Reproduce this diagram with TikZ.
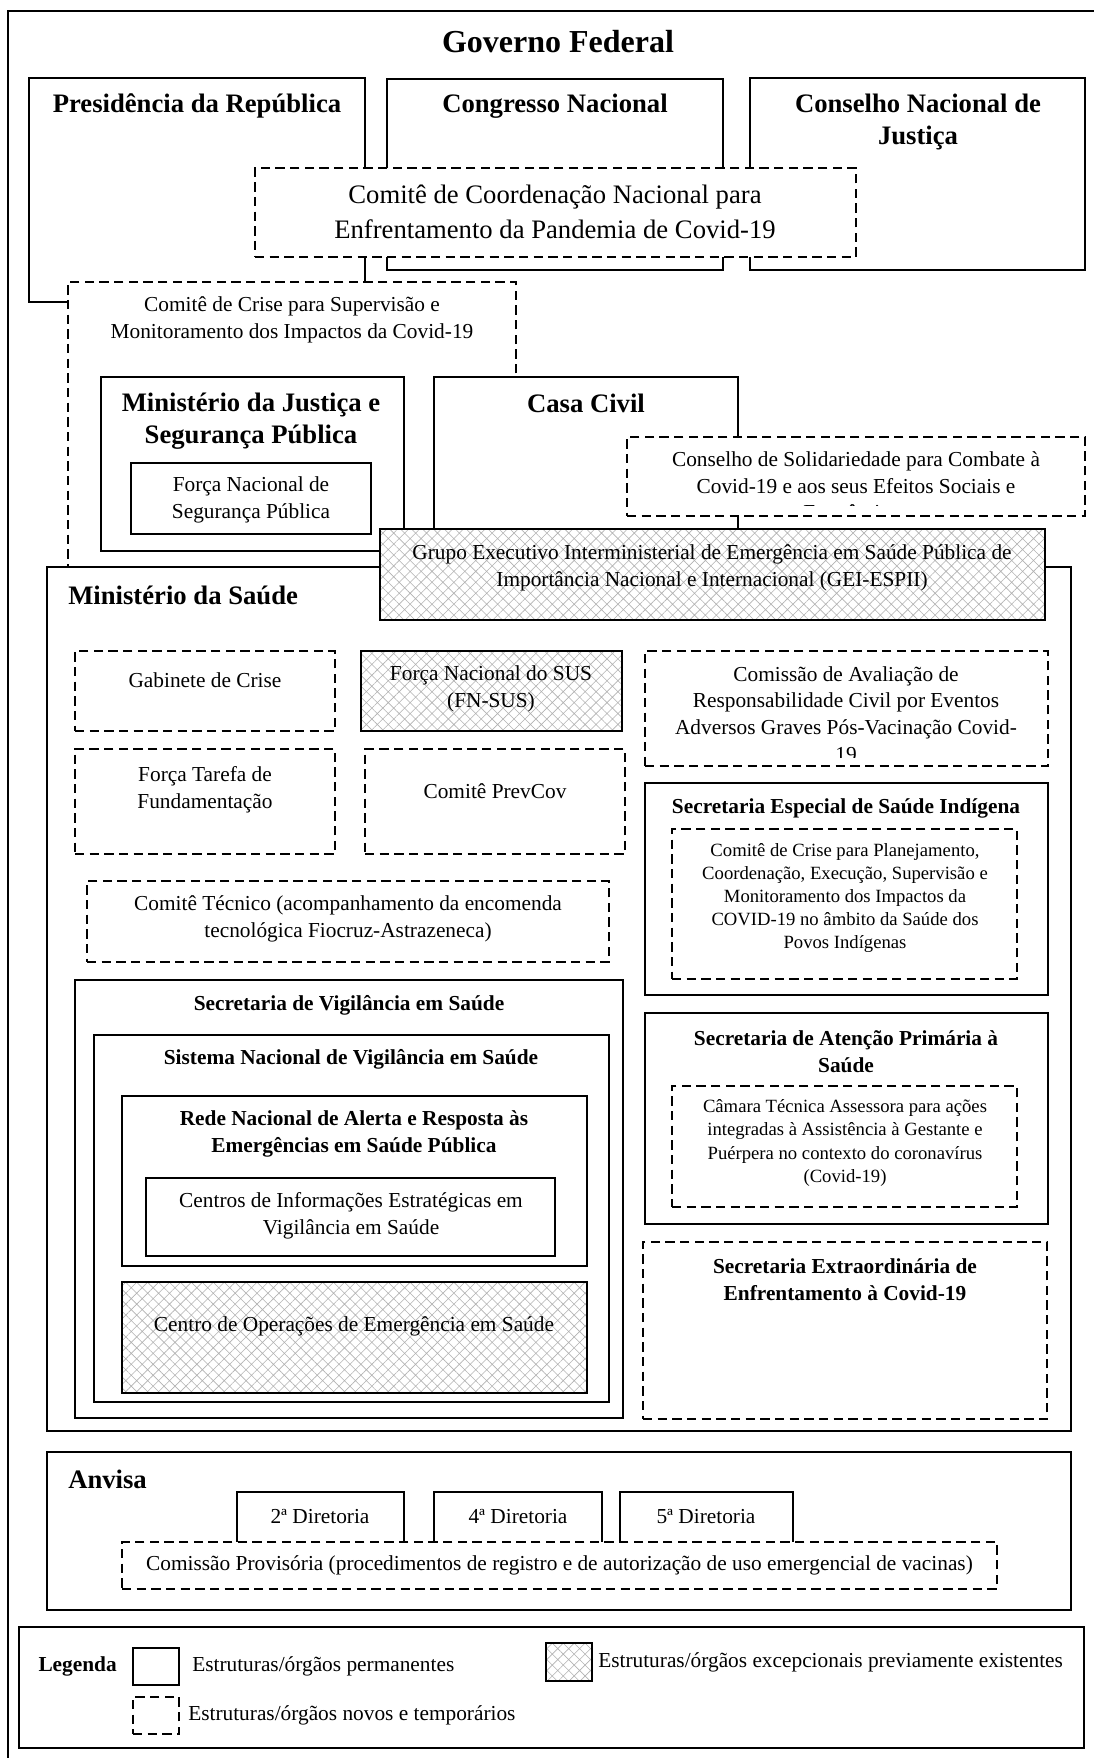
\documentclass[tikz,border=0pt]{standalone}
\usepackage{fontspec}
\setmainfont{Liberation Serif}
\usetikzlibrary{positioning,fit,patterns.meta}

\tikzset{
  perm/.style={draw, fill=white, line width=0.8pt, inner sep=0pt, outer sep=0pt},
  temp/.style={perm, dash pattern=on 7pt off 4pt},
  exc/.style={perm, preaction={fill=white},
    pattern={Hatch[angle=45,distance=5.8pt,line width=0.45pt]}, pattern color=black!30},
  ttl/.style={inner sep=0pt, font=\bfseries\fontsize{24}{28}\selectfont},
  hd/.style={inner sep=0pt, align=center, font=\bfseries\fontsize{20}{24}\selectfont},
  big/.style={inner sep=0pt, align=center, font=\fontsize{20}{26}\selectfont},
  sub/.style={inner sep=0pt, align=center, font=\bfseries\fontsize{16}{20.5}\selectfont},
  txt/.style={inner sep=0pt, align=center, font=\fontsize{16}{20}\selectfont},
  sml/.style={inner sep=0pt, align=center, font=\fontsize{14}{17.4}\selectfont}
}

\begin{document}
\begin{tikzpicture}[x=0.75pt, y=-0.75pt]
\clip (0,0) rectangle (1094,1758);
\node (frame) [perm, line width=1.2pt, fit={(8,11) (1110,1775)}] {};
\node (gf) [ttl] at (558,42) {Governo Federal};

% poderes
\node (presid) [perm, fit={(29,78) (365,302)}] {};
\node (presid-t) [hd] at (197,106) {Presidência da República};
\node (congresso) [perm, fit={(387,79) (723,270)}] {};
\node (congresso-t) [hd] at (555,106) {Congresso Nacional};
\node (cnj) [perm, fit={(750,78) (1085,270)}] {};
\node (cnj-t) [hd] at (918,122) {Conselho Nacional de\\Justiça};
\node (coord) [temp, fit={(255,168) (856,257)}] {};
\node (coord-t) [big] at (555,212) {Comitê de Coordenação Nacional para\\Enfrentamento da Pandemia de Covid-19};

\node (crise) [temp, fit={(68,282) (516,600)}] {};
\node (crise-t) [txt] at (292,320) {Comitê de Crise para Supervisão e\\Monitoramento dos Impactos da Covid-19};
\node (mjsp) [perm, fit={(101,377) (404,551)}] {};
\node (mjsp-t) [hd] at (251,421) {Ministério da Justiça e\\Segurança Pública};
\node (fnsp) [perm, fit={(131,463) (371,534)}] {};
\node (fnsp-t) [txt] at (251,500) {Força Nacional de\\Segurança Pública};
\node (casa) [perm, fit={(434,377) (738,590)}] {};
\node (casa-t) [hd] at (586,403) {Casa Civil};
\node (conselho) [temp, fit={(627,437) (1085,516)}] {};
\begin{scope}
  \clip (627,437) rectangle (1085,505);
  \node (conselho-t) [txt] at (856,486) {Conselho de Solidariedade para Combate à\\Covid-19 e aos seus Efeitos Sociais e\\Econômicos};
\end{scope}

% Ministerio da Saude
\node (ms) [perm, fit={(47,567) (1071,1431)}] {};
\node (ms-t) [hd, anchor=west] at (68,595) {Ministério da Saúde};
\node (gei) [exc, fit={(380,529) (1045,620)}] {};
\node (gei-t) [txt] at (712,568) {Grupo Executivo Interministerial de Emergência em Saúde Pública de\\Importância Nacional e Internacional (GEI-ESPII)};

\node (gabinete) [temp, fit={(75,651) (335,731)}] {};
\node (gabinete-t) [txt] at (205,680) {Gabinete de Crise};
\node (fnsus) [exc, fit={(361,651) (622,731)}] {};
\node (fnsus-t) [txt] at (491,689) {Força Nacional do SUS\\(FN-SUS)};
\node (aval) [temp, fit={(645,651) (1048,766)}] {};
\begin{scope}
  \clip (645,651) rectangle (1048,757);
  \node (aval-t) [txt] at (846,714) {Comissão de Avaliação de\\Responsabilidade Civil por Eventos\\Adversos Graves Pós-Vacinação Covid-\\19};
\end{scope}
\node (tarefa) [temp, fit={(75,749) (335,854)}] {};
\node (tarefa-t) [txt] at (205,790) {Força Tarefa de\\Fundamentação};
\node (prevcov) [temp, fit={(365,749) (625,854)}] {};
\node (prevcov-t) [txt] at (495,791) {Comitê PrevCov};
\node (tecnico) [temp, fit={(87,881) (609,962)}] {};
\node (tecnico-t) [txt] at (348,919) {Comitê Técnico (acompanhamento da encomenda\\tecnológica Fiocruz-Astrazeneca)};

\node (sesai) [perm, fit={(645,783) (1048,995)}] {};
\node (sesai-t) [sub] at (846,808) {Secretaria Especial de Saúde Indígena};
\node (crisei) [temp, fit={(672,829) (1017,979)}] {};
\node (crisei-t) [sml] at (845,898) {Comitê de Crise para Planejamento,\\Coordenação, Execução, Supervisão e\\Monitoramento dos Impactos da\\COVID-19 no âmbito da Saúde dos\\Povos Indígenas};

\node (svs) [perm, fit={(75,980) (623,1418)}] {};
\node (svs-t) [sub] at (349,1005) {Secretaria de Vigilância em Saúde};
\node (snvs) [perm, fit={(94,1035) (609,1402)}] {};
\node (snvs-t) [sub] at (351,1059) {Sistema Nacional de Vigilância em Saúde};
\node (rede) [perm, fit={(122,1096) (587,1266)}] {};
\node (rede-t) [sub] at (354,1134) {Rede Nacional de Alerta e Resposta às\\Emergências em Saúde Pública};
\node (cievs) [perm, fit={(146,1178) (555,1256)}] {};
\node (cievs-t) [txt] at (351,1216) {Centros de Informações Estratégicas em\\Vigilância em Saúde};
\node (coes) [exc, fit={(122,1282) (587,1393)}] {};
\node (coes-t) [txt] at (354,1326) {Centro de Operações de Emergência em Saúde};

\node (saps) [perm, fit={(645,1013) (1048,1224)}] {};
\node (saps-t) [sub] at (846,1052) {Secretaria de Atenção Primária à\\Saúde};
\node (camara) [temp, fit={(672,1086) (1017,1207)}] {};
\node (camara-t) [sml] at (845,1143) {Câmara Técnica Assessora para ações\\integradas à Assistência à Gestante e\\Puérpera no contexto do coronavírus\\(Covid-19)};
\node (secovid) [temp, fit={(643,1242) (1047,1419)}] {};
\node (secovid-t) [sub] at (845,1280) {Secretaria Extraordinária de\\Enfrentamento à Covid-19};

% Anvisa
\node (anvisa) [perm, fit={(47,1452) (1071,1610)}] {};
\node (anvisa-t) [hd, anchor=west] at (68,1479) {Anvisa};
\node (dir2) [perm, fit={(237,1492) (404,1550)}] {};
\node (dir2-t) [txt] at (320,1516) {2ª Diretoria};
\node (dir4) [perm, fit={(434,1492) (602,1550)}] {};
\node (dir4-t) [txt] at (518,1516) {4ª Diretoria};
\node (dir5) [perm, fit={(620,1492) (793,1550)}] {};
\node (dir5-t) [txt] at (706,1516) {5ª Diretoria};
\node (comprov) [temp, fit={(122,1542) (997,1589)}] {};
\node (comprov-t) [txt] at (comprov) {Comissão Provisória (procedimentos de registro e de autorização de uso emergencial de vacinas)};

% legenda
\node (legenda) [perm, fit={(19,1627) (1084,1748)}] {};
\node (legperm) [perm, fit={(133,1648) (179,1685)}] {};
\node (legenda-t) [sub, left=12pt of legperm] {Legenda};
\node (legperm-t) [txt, right=9.75pt of legperm] {Estruturas/órgãos permanentes};
\node (legexc) [exc, fit={(546,1643) (592,1681)}] {};
\node (legexc-t) [txt, right=4.5pt of legexc] {Estruturas/órgãos excepcionais previamente existentes};
\node (legnew) [temp, fit={(133,1697) (179,1734)}] {};
\node (legnew-t) [txt, right=6.75pt of legnew] {Estruturas/órgãos novos e temporários};
\end{tikzpicture}
\end{document}
